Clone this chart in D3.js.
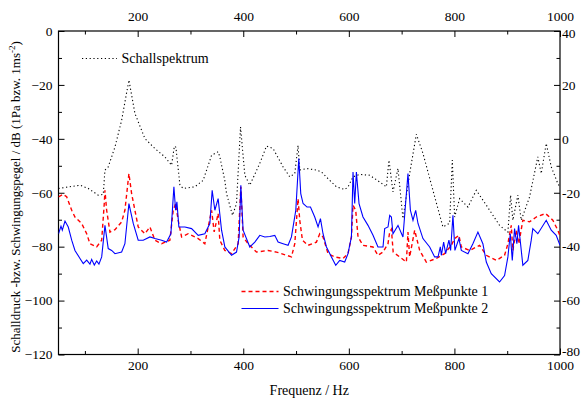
<!DOCTYPE html>
<html>
<head>
<meta charset="utf-8">
<script src="https://cdn.jsdelivr.net/npm/d3@7"></script>
<style>
  body { margin: 0; background: #fff; }
  svg text { font-family: "Liberation Serif", "Times New Roman", serif; fill: #000; }
</style>
</head>
<body>
<svg width="583" height="401"></svg>
<script>
// Schallspektrum (dotted black)
const schallFreq = [50, 90.7, 106.4, 125.3, 134.8, 138, 144.2, 157, 169.6, 183.4, 194.8, 213.7, 232.6, 251.5, 264.2,
  269.5, 272.4, 280, 286.2, 308.3, 324, 340, 352.4, 355.6, 365, 368.3, 379.7, 387.2, 394.8, 403, 412.4, 431.3, 444,
  456.5, 475.4, 488.1, 497.6, 503.8, 507, 519.7, 538.6, 548.1, 563.8, 576.5, 592.2, 598.5, 607.9, 620.6, 639.5, 658.4,
  671.1, 676, 683.6, 693.1, 702.5, 715.2, 727.9, 740.4, 759.3, 778.2, 790.9, 796, 800.4, 809.8, 825.6, 841.4, 860.4,
  885.5, 901.3, 906.4, 910.7, 920.2, 926.6, 942.3, 958, 964.4, 973.9, 983.4, 995.9, 1000];
const schallDb = [-58.4, -57.2, -58.4, -60.9, -60.6, -51.6, -50.4, -43.0, -33.1, -18.2, -30.6, -39.9, -43.6, -46.7, -49.8,
  -42.7, -43.1, -57.2, -58.4, -57.8, -55.4, -46.1, -44.8, -46.7, -55.4, -60.3, -68.4, -64.0, -35.6, -53.5, -57.2, -49.1, -42.7,
  -43.6, -50.4, -54.1, -52.9, -42.4, -51.6, -51.0, -51.6, -52.3, -55.4, -57.8, -58.8, -57.8, -54.1, -53.2, -53.5, -56.0,
  -57.8, -47.9, -59.7, -51.0, -69.6, -52.9, -38.3, -45.4, -59.1, -72.7, -71.3, -47.9, -69.0, -62.2, -65.3, -59.1, -64.6,
  -72.1, -74.6, -60.9, -70.2, -60.9, -70.2, -61.6, -46.7, -52.9, -41.7, -50.4, -56.6, -58.0];

// Schwingungsspektrum Meßpunkte 1 (dashed red)
const mp1Freq = [50, 59.1, 65.5, 75, 81.2, 93.9, 103.4, 109.6, 122.3, 131.8, 136.7, 138, 141.2, 147.5, 157, 169.6, 175.8,
  183.4, 188.5, 201, 213.7, 223.2, 232.6, 245.3, 261, 267.3, 271.8, 276.7, 283.2, 295.6, 314.6, 327.2, 340, 344.9, 352.4,
  355.6, 365.1, 377.8, 390.3, 395.4, 399.7, 409.2, 425.1, 447, 462.9, 481.9, 491.3, 497.6, 503.8, 507, 512.1, 522.7, 538.6,
  544.9, 551.1, 560.6, 573.3, 589, 598.4, 604.9, 607.9, 613, 617.4, 626.8, 645.8, 655.2, 664.7, 674.2, 677.4, 680.6, 684,
  696.3, 709, 712, 715.2, 724.7, 734.2, 746.8, 765.7, 781.4, 794.1, 800.4, 808.5, 813.1, 828.8, 847.7, 860.4, 879.3, 895,
  901.3, 907.7, 910.7, 917.1, 922, 929.6, 942.3, 955, 972.6, 986.4, 995.9, 1000];
const mp1Db = [-61.5, -60.6, -61.5, -66.5, -69.0, -71.4, -75.2, -78.9, -80.1, -77.6, -64.0, -59.1, -66.5, -74.6, -73.7, -70.8, -66.5,
  -52.9, -60.3, -72.7, -75.2, -72.7, -77.6, -78.9, -77.6, -66.5, -64.0, -70.2, -76.4, -75.2, -77.0, -78.9, -66.5, -74.5, -67.7,
  -77.6, -81.4, -82.6, -78.9, -57.8, -76.4, -78.9, -82.0, -81.4, -82.0, -83.2, -83.8, -78.9, -62.2, -70.2, -77.6, -79.5, -78.3,
  -75.2, -76.4, -82.6, -83.8, -84.4, -82.6, -76.4, -64.6, -66.5, -76.4, -79.5, -80.1, -83.2, -82.0, -78.9, -74.5, -73.5, -82.0,
  -83.8, -85.7, -74.6, -83.8, -73.9, -81.4, -85.7, -84.4, -82.6, -79.5, -77.0, -75.8, -80.1, -81.4, -79.5, -83.2, -85.1, -83.2,
  -78.9, -72.1, -81.4, -73.9, -78.9, -70.2, -70.8, -69.0, -67.7, -70.2, -73.9, -76.0];

// Schwingungsspektrum Meßpunkte 2 (solid blue)
const mp2Freq = [50, 54.7, 57.2, 62.3, 68.5, 75, 81.2, 90.7, 96.9, 103.4, 109.6, 112.8, 117.8, 122.3, 126.6, 131.8, 138, 144.2,
  150.7, 157, 169.6, 175.8, 183.4, 191.6, 201, 210.5, 223.2, 232.6, 245.3, 254.8, 262.9, 268.6, 271.8, 274.3, 278, 289.4, 302.1,
  314.6, 327.2, 336.7, 341.1, 346.2, 352.4, 358.9, 365.1, 377.8, 387.2, 392.2, 395.4, 399.7, 412.4, 421.9, 431.3, 440.8, 450.3,
  459.7, 466, 475.4, 484.9, 491.3, 499.5, 505.2, 508.9, 513.3, 520.8, 527.3, 535.4, 541.7, 546.2, 551.1, 557.6, 567, 575.2,
  582.7, 592.2, 598.4, 604.9, 607.9, 611.1, 614.3, 619.3, 626.8, 636.3, 645.8, 655.2, 664.7, 667.9, 674.2, 677.4, 680.6, 683.6,
  693.1, 702.5, 712, 716.6, 721.5, 726.6, 731, 740.4, 753.1, 762.5, 768.9, 773.3, 775.2, 779.6, 783.4, 789.6, 792.8, 797.2,
  800.9, 808.5, 813.1, 825.6, 835, 844.5, 853.9, 860.4, 869.8, 885.5, 895, 901.3, 905.8, 909.6, 913.9, 918.3, 921.5, 925.3,
  929.6, 939.1, 945.5, 948.5, 958, 973.9, 983.4, 992.8, 1000];
const mp2Db = [-75.2, -72.4, -73.9, -70.5, -72.7, -77.6, -81.4, -84.4, -86.3, -85.0, -86.5, -84.7, -86.8, -85.3, -86.5, -83.8, -72.1, -80.7,
  -81.4, -82.6, -82.0, -78.9, -64.0, -71.4, -77.6, -77.6, -76.4, -77.0, -77.6, -78.3, -75.2, -57.8, -66.5, -63.4, -72.7, -72.7, -73.3,
  -75.8, -75.2, -71.4, -59.1, -66.5, -62.2, -73.9, -80.1, -83.2, -82.0, -76.4, -57.2, -73.9, -80.1, -78.3, -75.8, -76.4, -76.2,
  -75.8, -78.3, -78.9, -79.5, -76.4, -66.5, -47.3, -60.3, -64.0, -65.3, -65.3, -69.0, -72.7, -69.6, -75.2, -80.1, -83.8, -86.9,
  -85.1, -85.7, -82.6, -76.4, -52.3, -64.0, -52.3, -64.0, -69.0, -72.1, -75.8, -80.1, -80.1, -73.3, -72.7, -68.4, -69.0, -75.2,
  -72.1, -76.4, -52.9, -66.5, -70.2, -66.5, -71.4, -77.0, -80.1, -83.8, -83.8, -80.1, -83.2, -78.3, -82.6, -77.6, -81.4, -68.4,
  -81.4, -77.0, -81.4, -82.6, -78.9, -74.6, -78.9, -85.7, -90.0, -93.1, -90.7, -83.8, -75.2, -85.1, -73.3, -78.9, -72.1, -78.9,
  -86.9, -85.1, -77.6, -73.3, -75.2, -70.2, -73.9, -75.8, -79.5];

const xMajor = [200, 400, 600, 800, 1000];
const xMinor = [100, 300, 500, 700, 900];
const yLeftMajor = [0, -20, -40, -60, -80, -100, -120];
const yMinor = [-10, -30, -50, -70, -90, -110];
const yRightLabels = [40, 20, 0, -20, -40, -60, -80];

const legendNames = ["Schallspektrum", "Schwingungsspektrum Meßpunkte 1", "Schwingungsspektrum Meßpunkte 2"];

const svg = d3.select("svg");
const pLeft = 58.5, pRight = 560, pTop = 31, pBottom = 354.5;

const x = d3.scaleLinear().domain([50, 1000]).range([pLeft, pRight]);
const y = d3.scaleLinear().domain([-120, 0]).range([pBottom, pTop]);

svg.append("defs").append("clipPath").attr("id", "plot")
  .append("rect").attr("x", pLeft).attr("y", pTop).attr("width", pRight - pLeft).attr("height", pBottom - pTop);

// ticks
function addAxis(axis, tx, ty) {
  const g = svg.append("g").attr("transform", `translate(${tx},${ty})`).call(axis);
  g.select(".domain").remove();
  g.selectAll("text").attr("font-size", 13.5).attr("font-family", null);
  g.selectAll("line").attr("stroke", "#000");
  return g;
}

addAxis(d3.axisBottom(x).tickValues(xMajor).tickSize(-6).tickPadding(6).tickFormat(d3.format("d")), 0, pBottom);
addAxis(d3.axisBottom(x).tickValues(xMinor).tickSize(-3.5).tickFormat(""), 0, pBottom);
addAxis(d3.axisTop(x).tickValues(xMajor).tickSize(-6).tickPadding(10).tickFormat(d3.format("d")), 0, pTop);
addAxis(d3.axisTop(x).tickValues(xMinor).tickSize(-3.5).tickFormat(""), 0, pTop);
addAxis(d3.axisLeft(y).tickValues(yLeftMajor).tickSize(-6).tickPadding(6).tickFormat(d3.format("d")), pLeft, 0);
addAxis(d3.axisLeft(y).tickValues(yMinor).tickSize(-3.5).tickFormat(""), pLeft, 0);
const rightAx = addAxis(d3.axisRight(y).tickValues(yLeftMajor).tickSize(-6).tickPadding(2)
  .tickFormat((d, i) => yRightLabels[i]), pRight, 0);
rightAx.selectAll("text").filter(d => d === 0).attr("dy", "0.5em");
rightAx.selectAll("text").filter(d => d === -120).attr("dy", "0.1em");
addAxis(d3.axisRight(y).tickValues(yMinor).tickSize(-3.5).tickFormat(""), pRight, 0);

svg.append("rect")
  .attr("x", pLeft).attr("y", pTop).attr("width", pRight - pLeft).attr("height", pBottom - pTop)
  .attr("fill", "none").attr("stroke", "#000").attr("stroke-width", 1.2);

// curves
const series = [
  { f: schallFreq, v: schallDb, color: "#000", dash: "1.2,2.6", width: 1.1 },
  { f: mp1Freq, v: mp1Db, color: "#ff0000", dash: "4,3", width: 1.4 },
  { f: mp2Freq, v: mp2Db, color: "#0000ff", dash: null, width: 1.1 }
];

const line = d3.line().x(d => x(d[0])).y(d => y(d[1]));
const plot = svg.append("g").attr("clip-path", "url(#plot)");
series.forEach(s => {
  plot.append("path")
    .datum(s.f.map((f, i) => [f, s.v[i]]))
    .attr("d", line)
    .attr("fill", "none")
    .attr("stroke", s.color)
    .attr("stroke-width", s.width)
    .attr("stroke-dasharray", s.dash);
});

// legend
const legendPos = [[82, 117, 58.5], [241.5, 278.5, 291.5], [241.5, 278.5, 308.5]];
series.forEach((s, i) => {
  const [x1, x2, ly] = legendPos[i];
  svg.append("line")
    .attr("x1", x1).attr("x2", x2).attr("y1", ly).attr("y2", ly)
    .attr("stroke", s.color).attr("stroke-width", s.width)
    .attr("stroke-dasharray", s.dash);
  svg.append("text")
    .attr("x", x2 + 4.5).attr("y", ly + 4.8)
    .attr("font-size", 14)
    .text(legendNames[i]);
});

// axis titles
svg.append("text")
  .attr("x", (pLeft + pRight) / 2).attr("y", 395)
  .attr("text-anchor", "middle").attr("font-size", 14)
  .text("Frequenz / Hz");

const yTitle = svg.append("text")
  .attr("transform", "translate(20,197) rotate(-90)")
  .attr("text-anchor", "middle").attr("font-size", 13);
yTitle.append("tspan").text("Schalldruck -bzw. Schwingungspegel / dB (1Pa bzw. 1ms");
yTitle.append("tspan").attr("dy", -5).attr("font-size", 9).text("-2");
yTitle.append("tspan").attr("dy", 5).text(")");
</script>
</body>
</html>
